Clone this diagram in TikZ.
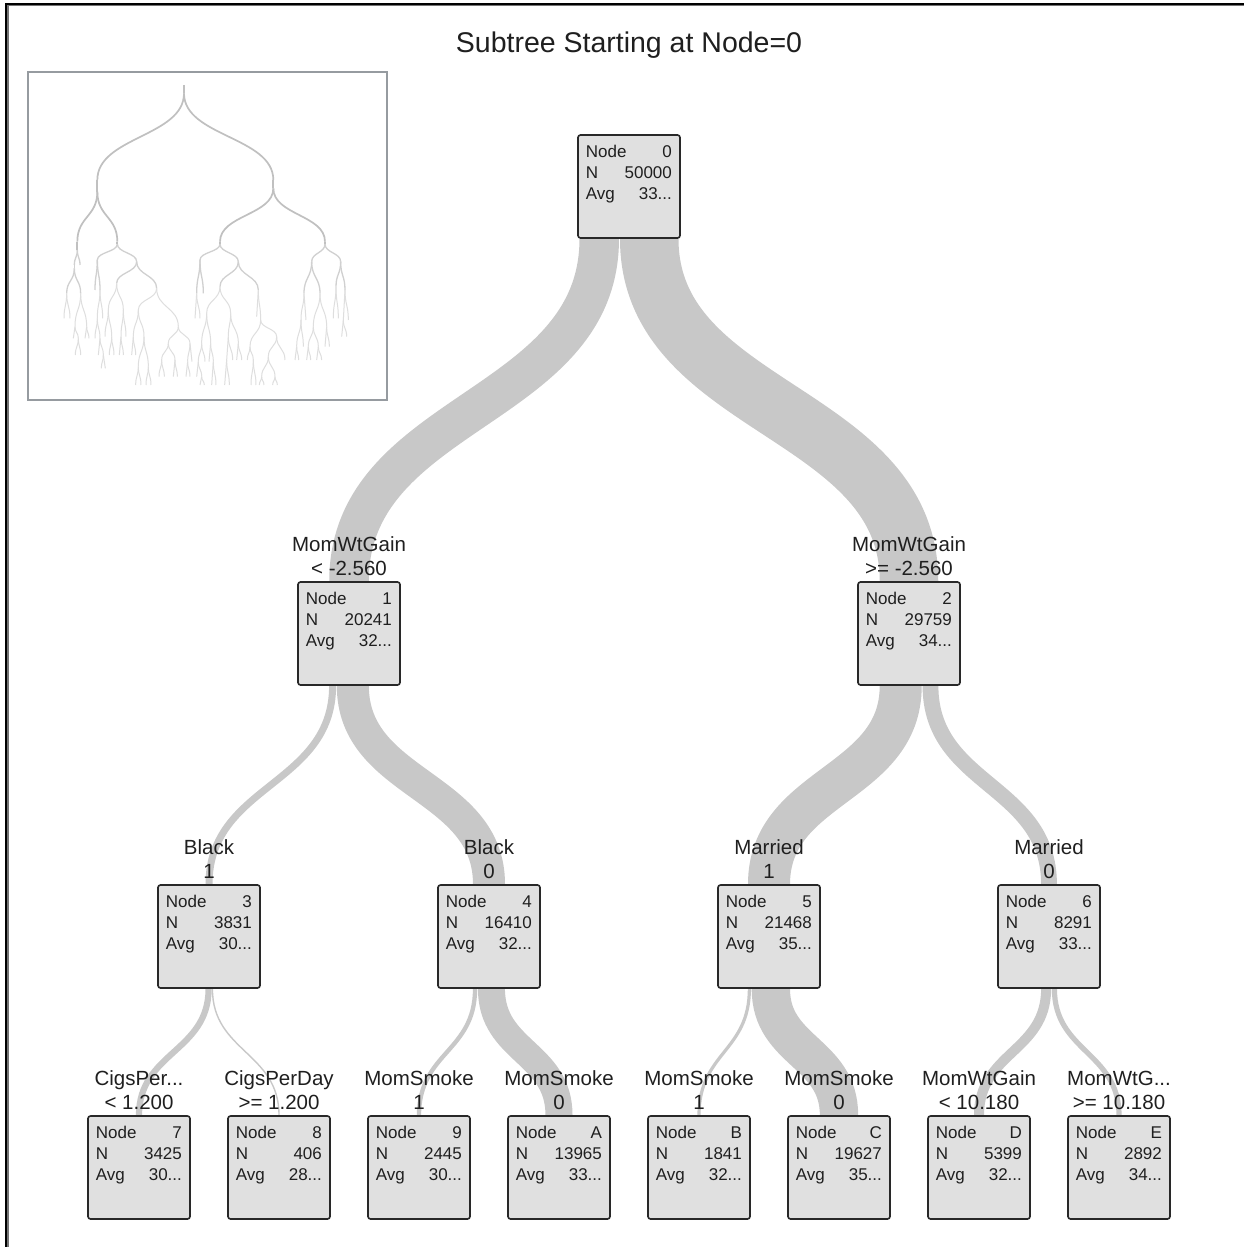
\documentclass[tikz,border=0pt]{standalone}
\usepackage{fontspec}
\setmainfont{Liberation Sans}
\usetikzlibrary{calc,backgrounds}
\definecolor{bandgray}{RGB}{200,200,200}
\definecolor{boxfill}{RGB}{224,224,224}
\definecolor{boxline}{RGB}{40,40,40}
\definecolor{thumbframe}{RGB}{150,155,160}
\definecolor{thA}{RGB}{192,192,192}
\definecolor{thB}{RGB}{208,208,208}
\definecolor{thC}{RGB}{222,222,222}
\tikzset{
  nodebox/.style={draw=boxline, fill=boxfill, line width=1.6, rounded corners=2.5,
    minimum width=102, minimum height=103, inner sep=0},
  boxtext/.style={font=\fontsize{17}{21}\selectfont, align=left, inner sep=0, text=black!88},
  labtext/.style={font=\fontsize{20.5}{24}\selectfont, inner sep=0, text=black!88},
  flow/.style={draw=bandgray, line cap=butt},
  tA/.style={draw=thA, line width=1.7},
  tB/.style={draw=thB, line width=1.3},
  tC/.style={draw=thC, line width=1.0},
}
\newcommand\treenode[6]{%
  \node[nodebox] (#1) at (#2,{#3+51.5}) {};
  \node[boxtext, anchor=north west] (#1-txt) at ($(#1.north west)+(8.5,10.8)$)
    {\makebox[86pt]{Node\hfill #4}\\ \makebox[86pt]{N\hfill #5}\\ \makebox[86pt]{Avg\hfill #6}};
}
\newcommand\splitlabel[4]{%
  \node[labtext, anchor=base] (#1a) at ($(#2.north)+(0,-29.5)$) {#3};
  \node[labtext, anchor=base] (#1b) at ($(#2.north)+(0,-6)$) {#4};
}
\newcommand\flowband[5]{%
  \draw[flow, line width=#4] ($(#1.south)+(#3,0)$) .. controls +(0,#5) and +(0,-#5) .. (#2.north);
}
\newcommand\thedge[5][tC]{%
  \draw[#1] (#2,#3) .. controls +(0,{(#5-#3)/2}) and +(0,{-(#5-#3)/2}) .. (#4,#5);
}
\begin{document}
\begin{tikzpicture}[x=1pt,y=-1pt]
\useasboundingbox (0,0) rectangle (1244,1247);
\begin{pgfonlayer}{background}
\fill[white] (0,0) rectangle (1244,1247);
\end{pgfonlayer}
% outer frame (left and top)
\draw[black!55, line width=1.2] (8,1247) -- (8,5.6) -- (1244,5.6);
\draw[black, line width=2] (6,1247) -- (6,3.7) -- (1244,3.7);

% title
\node[font=\fontsize{28.5}{34}\selectfont, anchor=base, inner sep=0, text=black!88] (title) at (629,52.3) {Subtree Starting at Node=0};

% overview thumbnail
\draw[thumbframe, line width=2] (28.3,72) rectangle (386.7,400);
\begin{scope}[shift={(20,60)}, scale=1/3]
\draw[tA] (492,75) -- (492,100);
\thedge[tA]{492}{100}{232}{360}
\thedge[tA]{492}{100}{760}{360}
\draw[tA] (232,360) -- (232,395);
\draw[tA] (760,360) -- (760,385);
\thedge[tA]{232}{395}{172}{545}
\thedge[tA]{232}{395}{292}{545}
\thedge[tA]{760}{385}{600}{545}
\thedge[tA]{760}{385}{915}{545}
\draw[tA] (172,545) -- (172,570);
\draw[tA] (292,545) -- (292,552);
\draw[tA] (600,545) -- (600,552);
\draw[tA] (915,545) -- (915,552);
% second tier
\thedge[tB]{172}{570}{163}{615}
\thedge[tB]{172}{570}{180}{615}
\draw[tB] (163,615) -- (163,625);
\thedge[tB]{163}{625}{140}{700}
\thedge[tB]{163}{625}{182}{700}
\thedge[tB]{292}{552}{232}{600}
\thedge[tB]{292}{552}{350}{605}
\thedge[tB]{232}{600}{225}{690}
\thedge[tB]{232}{600}{240}{690}
\thedge[tB]{350}{605}{290}{670}
\thedge[tB]{350}{605}{410}{685}
\thedge[tB]{600}{552}{540}{600}
\thedge[tB]{600}{552}{655}{605}
\thedge[tB]{540}{600}{530}{700}
\thedge[tB]{540}{600}{550}{700}
\thedge[tB]{655}{605}{600}{680}
\thedge[tB]{655}{605}{715}{690}
\thedge[tB]{915}{552}{875}{605}
\thedge[tB]{915}{552}{962}{605}
\thedge[tB]{875}{605}{852}{700}
\thedge[tB]{875}{605}{900}{700}
\thedge[tB]{962}{605}{948}{680}
\thedge[tB]{962}{605}{975}{690}
% deeper tiers
\thedge{140}{700}{132}{775}
\thedge{140}{700}{150}{775}
\thedge{182}{700}{165}{800}
\thedge{182}{700}{200}{800}
\thedge{165}{800}{160}{835}
\thedge{165}{800}{175}{835}
\thedge{200}{800}{195}{835}
\thedge{200}{800}{207}{835}
\thedge{175}{835}{166}{885}
\thedge{175}{835}{182}{885}
\thedge{240}{690}{232}{775}
\thedge{240}{690}{248}{775}
\thedge{232}{775}{225}{835}
\thedge{232}{775}{240}{835}
\thedge{240}{835}{235}{885}
\thedge{240}{835}{250}{885}
\thedge{250}{885}{244}{925}
\thedge{250}{885}{256}{925}
\thedge{290}{670}{265}{750}
\thedge{290}{670}{310}{750}
\thedge{265}{750}{255}{830}
\thedge{265}{750}{275}{830}
\thedge{275}{830}{268}{885}
\thedge{275}{830}{282}{885}
\thedge{310}{750}{303}{830}
\thedge{310}{750}{318}{830}
\thedge{303}{830}{298}{885}
\thedge{303}{830}{310}{885}
\thedge{410}{685}{355}{750}
\thedge{410}{685}{475}{800}
\thedge{355}{750}{340}{830}
\thedge{355}{750}{372}{830}
\thedge{340}{830}{335}{885}
\thedge{340}{830}{347}{885}
\thedge{372}{830}{355}{920}
\thedge{372}{830}{385}{920}
\thedge{355}{920}{347}{975}
\thedge{355}{920}{363}{975}
\thedge{385}{920}{378}{975}
\thedge{385}{920}{393}{975}
\thedge{475}{800}{445}{850}
\thedge{475}{800}{510}{850}
\thedge{445}{850}{425}{900}
\thedge{445}{850}{465}{900}
\thedge{425}{900}{417}{950}
\thedge{425}{900}{433}{950}
\thedge{465}{900}{460}{950}
\thedge{465}{900}{472}{950}
\thedge{510}{850}{503}{905}
\thedge{510}{850}{516}{905}
\thedge{503}{905}{498}{950}
\thedge{503}{905}{510}{950}
\thedge{530}{700}{525}{775}
\thedge{530}{700}{540}{775}
\thedge{600}{680}{560}{760}
\thedge{600}{680}{632}{760}
\thedge{560}{760}{545}{850}
\thedge{560}{760}{572}{850}
\thedge{545}{850}{535}{905}
\thedge{545}{850}{555}{905}
\thedge{535}{905}{530}{950}
\thedge{535}{905}{545}{950}
\thedge{545}{950}{540}{975}
\thedge{545}{950}{553}{975}
\thedge{572}{850}{567}{905}
\thedge{572}{850}{580}{905}
\thedge{580}{905}{575}{975}
\thedge{580}{905}{588}{975}
\thedge{632}{760}{625}{830}
\thedge{632}{760}{655}{850}
\thedge{625}{830}{620}{900}
\thedge{625}{830}{638}{900}
\thedge{620}{900}{614}{975}
\thedge{620}{900}{628}{975}
\thedge{655}{850}{650}{900}
\thedge{655}{850}{665}{900}
\thedge{715}{690}{710}{770}
\thedge{715}{690}{722}{780}
\thedge{722}{780}{690}{860}
\thedge{722}{780}{770}{830}
\thedge{690}{860}{682}{900}
\thedge{690}{860}{700}{900}
\thedge{700}{900}{693}{975}
\thedge{700}{900}{708}{975}
\thedge{770}{830}{745}{890}
\thedge{770}{830}{795}{900}
\thedge{745}{890}{725}{950}
\thedge{745}{890}{765}{950}
\thedge{725}{950}{718}{975}
\thedge{725}{950}{732}{975}
\thedge{765}{950}{758}{975}
\thedge{765}{950}{772}{975}
\thedge{852}{700}{843}{780}
\thedge{852}{700}{858}{780}
\thedge{843}{780}{830}{860}
\thedge{843}{780}{850}{860}
\thedge{830}{860}{825}{900}
\thedge{830}{860}{836}{900}
\thedge{900}{700}{880}{800}
\thedge{900}{700}{920}{800}
\thedge{880}{800}{865}{860}
\thedge{880}{800}{895}{860}
\thedge{865}{860}{860}{900}
\thedge{865}{860}{872}{900}
\thedge{895}{860}{890}{900}
\thedge{895}{860}{905}{900}
\thedge{920}{800}{915}{860}
\thedge{920}{800}{928}{860}
\thedge{948}{680}{940}{775}
\thedge{948}{680}{955}{775}
\thedge{975}{690}{970}{780}
\thedge{975}{690}{985}{780}
\thedge{970}{780}{965}{830}
\thedge{970}{780}{980}{830}
\end{scope}

% tree nodes
\treenode{n0}{629}{135}{0}{50000}{33...}
\treenode{n1}{349}{582}{1}{20241}{32...}
\treenode{n2}{909}{582}{2}{29759}{34...}
\treenode{n3}{209}{885}{3}{3831}{30...}
\treenode{n4}{489}{885}{4}{16410}{32...}
\treenode{n5}{769}{885}{5}{21468}{35...}
\treenode{n6}{1049}{885}{6}{8291}{33...}
\treenode{n7}{139}{1116}{7}{3425}{30...}
\treenode{n8}{279}{1116}{8}{406}{28...}
\treenode{n9}{419}{1116}{9}{2445}{30...}
\treenode{nA}{559}{1116}{A}{13965}{33...}
\treenode{nB}{699}{1116}{B}{1841}{32...}
\treenode{nC}{839}{1116}{C}{19627}{35...}
\treenode{nD}{979}{1116}{D}{5399}{32...}
\treenode{nE}{1119}{1116}{E}{2892}{34...}

% flows (behind the boxes)
\begin{pgfonlayer}{background}
\flowband{n0}{n1}{-29.76}{39.5}{172}
\flowband{n0}{n2}{20.24}{58.5}{172}
\flowband{n1}{n3}{-16.41}{7.0}{100}
\flowband{n1}{n4}{3.83}{32.0}{100}
\flowband{n2}{n5}{-8.29}{42.0}{100}
\flowband{n2}{n6}{21.47}{15.8}{100}
\flowband{n3}{n7}{-0.41}{6.2}{63}
\flowband{n3}{n8}{3.43}{1.4}{63}
\flowband{n4}{n9}{-13.97}{4.3}{63}
\flowband{n4}{nA}{2.45}{27.0}{63}
\flowband{n5}{nB}{-19.63}{3.2}{63}
\flowband{n5}{nC}{1.84}{38.3}{63}
\flowband{n6}{nD}{-2.89}{10.0}{63}
\flowband{n6}{nE}{5.40}{5.2}{63}
\end{pgfonlayer}

% split labels
\splitlabel{l1}{n1}{MomWtGain}{< -2.560}
\splitlabel{l2}{n2}{MomWtGain}{>= -2.560}
\splitlabel{l3}{n3}{Black}{1}
\splitlabel{l4}{n4}{Black}{0}
\splitlabel{l5}{n5}{Married}{1}
\splitlabel{l6}{n6}{Married}{0}
\splitlabel{l7}{n7}{CigsPer...}{< 1.200}
\splitlabel{l8}{n8}{CigsPerDay}{>= 1.200}
\splitlabel{l9}{n9}{MomSmoke}{1}
\splitlabel{lA}{nA}{MomSmoke}{0}
\splitlabel{lB}{nB}{MomSmoke}{1}
\splitlabel{lC}{nC}{MomSmoke}{0}
\splitlabel{lD}{nD}{MomWtGain}{< 10.180}
\splitlabel{lE}{nE}{MomWtG...}{>= 10.180}
\end{tikzpicture}
\end{document}
